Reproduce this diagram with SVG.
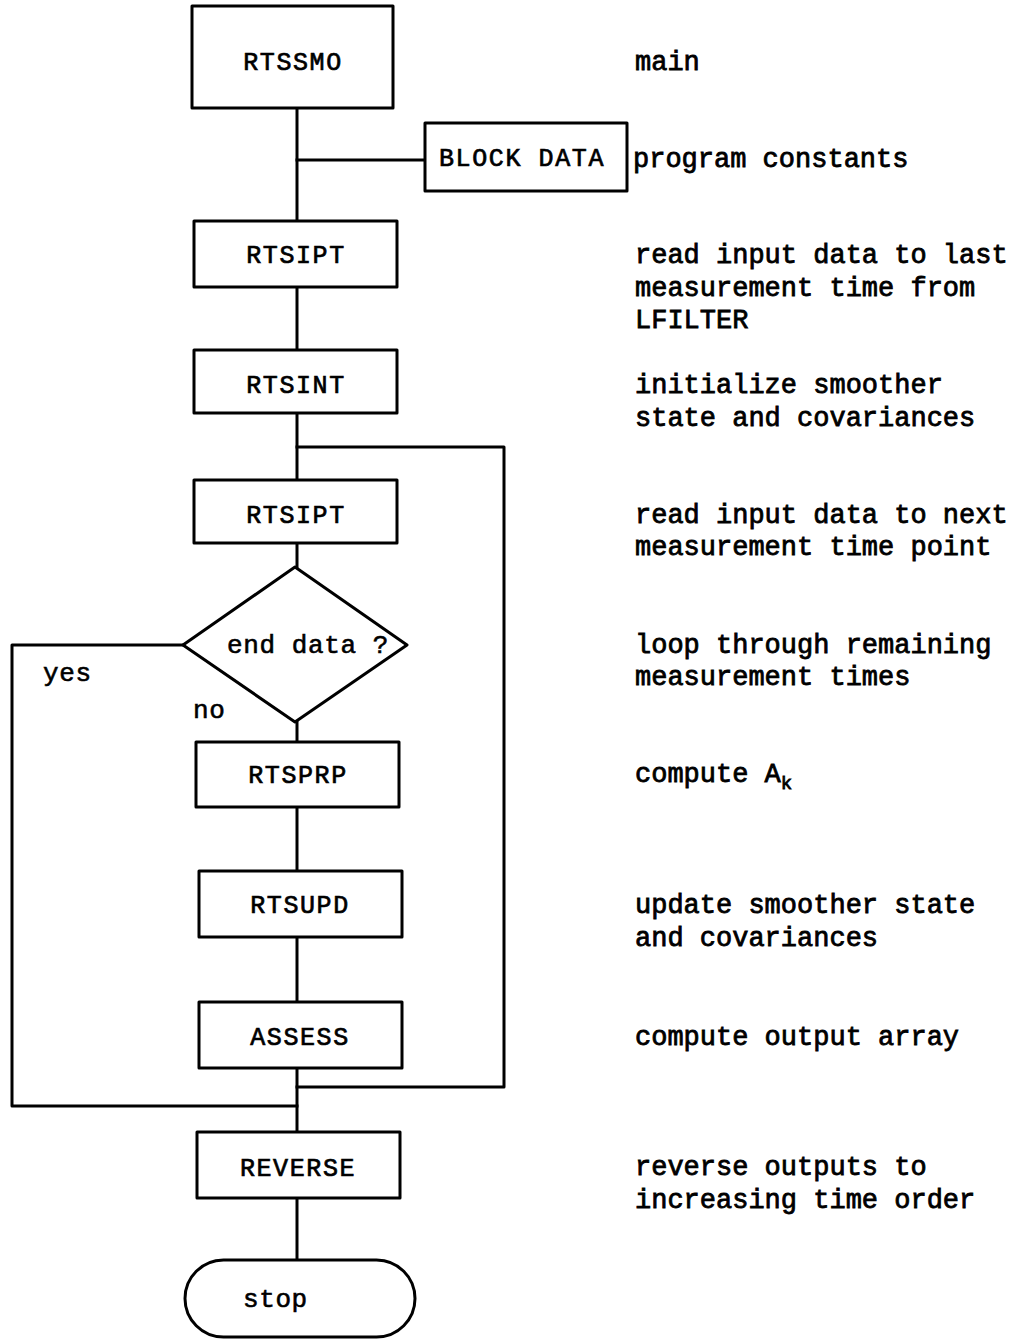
<svg xmlns="http://www.w3.org/2000/svg" width="1019" height="1340" viewBox="0 0 1019 1340">
<style>
.box{fill:#fff;stroke:#000;stroke-width:3;stroke-linejoin:round}
.ln{fill:none;stroke:#000;stroke-width:3;stroke-linejoin:round;stroke-linecap:square}
.lbl{font-family:"Liberation Mono",monospace;font-size:25px;letter-spacing:1.6px;text-anchor:middle;fill:#000;stroke:#000;stroke-width:0.7}
.sm{font-family:"Liberation Mono",monospace;font-size:26px;letter-spacing:0.6px;fill:#000;stroke:#000;stroke-width:0.6}
.side{font-family:"Liberation Mono",monospace;font-size:27px;fill:#000;stroke:#000;stroke-width:0.8}
</style>
<rect width="1019" height="1340" fill="#fff"/>
<g id="connectors">
<line class="ln" x1="297" y1="108" x2="297" y2="221"/>
<line class="ln" x1="297" y1="160" x2="425" y2="160"/>
<line class="ln" x1="297" y1="287" x2="297" y2="350"/>
<line class="ln" x1="297" y1="413" x2="297" y2="480"/>
<polyline class="ln" points="297,447 504,447 504,1087 297,1087"/>
<line class="ln" x1="297" y1="543" x2="297" y2="567"/>
<line class="ln" x1="297" y1="722" x2="297" y2="742"/>
<line class="ln" x1="297" y1="807" x2="297" y2="871"/>
<line class="ln" x1="297" y1="937" x2="297" y2="1002"/>
<line class="ln" x1="297" y1="1068" x2="297" y2="1132"/>
<polyline class="ln" points="183,645 12,645 12,1106 297,1106"/>
<line class="ln" x1="297" y1="1198" x2="297" y2="1260"/>
</g>
<g id="rtssmo"><rect class="box" x="192" y="6" width="201" height="102"/><text class="lbl" x="293" y="70">RTSSMO</text></g>
<g id="blockdata"><rect class="box" x="425" y="123" width="202" height="68"/><text class="lbl" x="522" y="166">BLOCK DATA</text></g>
<g id="rtsipt1"><rect class="box" x="194" y="221" width="203" height="66"/><text class="lbl" x="296" y="263">RTSIPT</text></g>
<g id="rtsint"><rect class="box" x="194" y="350" width="203" height="63"/><text class="lbl" x="296" y="393">RTSINT</text></g>
<g id="rtsipt2"><rect class="box" x="194" y="480" width="203" height="63"/><text class="lbl" x="296" y="523">RTSIPT</text></g>
<g id="enddata"><polygon class="box" points="295,567 407,645 295,722 183,645"/><text class="sm" x="227" y="653">end data ?</text></g>
<g id="rtsprp"><rect class="box" x="196" y="742" width="203" height="65"/><text class="lbl" x="298" y="783">RTSPRP</text></g>
<g id="rtsupd"><rect class="box" x="199" y="871" width="203" height="66"/><text class="lbl" x="300" y="913">RTSUPD</text></g>
<g id="assess"><rect class="box" x="199" y="1002" width="203" height="66"/><text class="lbl" x="300" y="1045">ASSESS</text></g>
<g id="reverse"><rect class="box" x="197" y="1132" width="203" height="66"/><text class="lbl" x="298" y="1176">REVERSE</text></g>
<g id="stop"><rect class="box" x="185" y="1260" width="230" height="77" rx="38.5"/><text class="sm" x="243" y="1307">stop</text></g>
<g id="edge-labels">
<text class="sm" x="43" y="681">yes</text>
<text class="sm" x="193" y="718">no</text>
</g>
<g id="descriptions">
<text class="side" x="635" y="70">main</text>
<text class="side" x="633" y="167">program constants</text>
<text class="side" x="635" y="263">read input data to last</text>
<text class="side" x="635" y="296">measurement time from</text>
<text class="side" x="635" y="328">LFILTER</text>
<text class="side" x="635" y="393">initialize smoother</text>
<text class="side" x="635" y="426">state and covariances</text>
<text class="side" x="635" y="523">read input data to next</text>
<text class="side" x="635" y="555">measurement time point</text>
<text class="side" x="635" y="653">loop through remaining</text>
<text class="side" x="635" y="685">measurement times</text>
<text class="side" x="635" y="782">compute A<tspan font-size="19" dy="7">k</tspan></text>
<text class="side" x="635" y="913">update smoother state</text>
<text class="side" x="635" y="946">and covariances</text>
<text class="side" x="635" y="1045">compute output array</text>
<text class="side" x="635" y="1175">reverse outputs to</text>
<text class="side" x="635" y="1208">increasing time order</text>
</g>
</svg>
